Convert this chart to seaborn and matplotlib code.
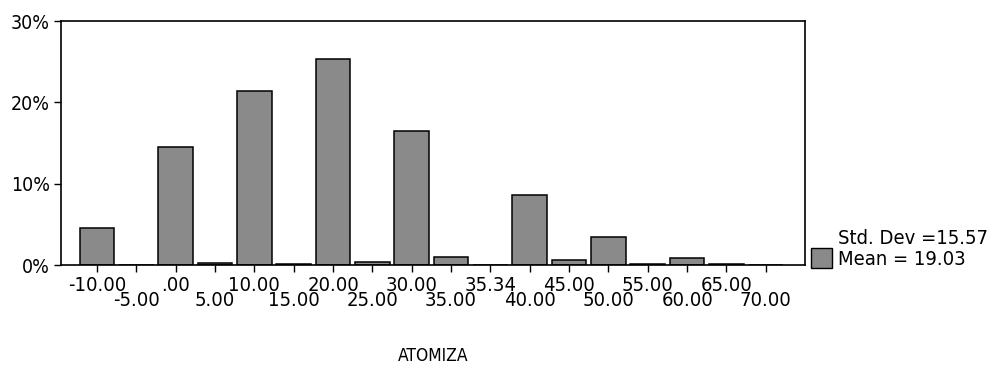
import matplotlib
matplotlib.use("Agg")
import matplotlib.pyplot as plt
import seaborn as sns
from matplotlib.patches import Patch
from matplotlib.ticker import PercentFormatter

# ATOMIZA histogram (SPSS style), bin labels alternate on two rows
bin_labels = ['-10.00', '-5.00', '.00', '5.00', '10.00', '15.00', '20.00', '25.00',
              '30.00', '35.00', '35.34', '40.00', '45.00', '50.00', '55.00', '60.00',
              '65.00', '70.00']
percent = [4.6, 0.0, 14.5, 0.25, 21.4, 0.1, 25.4, 0.35,
           16.5, 0.95, 0.0, 8.65, 0.65, 3.4, 0.1, 0.9,
           0.1, 0.05]
stats_labels = ['Std. Dev =15.57', 'Mean = 19.03']

sns.set_style('white')
plt.rcParams['font.family'] = ['DejaVu Sans']
plt.rcParams['font.stretch'] = 'condensed'
plt.rcParams['text.color'] = 'black'
plt.rcParams['xtick.color'] = 'black'
plt.rcParams['ytick.color'] = 'black'
plt.rcParams['axes.labelcolor'] = 'black'

fig, ax = plt.subplots(figsize=(9.96, 3.77), dpi=100)
fig.subplots_adjust(left=0.0612, right=0.808, top=0.944, bottom=0.297)

sns.barplot(x=bin_labels, y=percent, order=bin_labels, color='#8a8a8a',
            edgecolor='black', linewidth=1.1, width=0.88, saturation=1, ax=ax)

ax.set_xlim(-0.915, len(bin_labels) - 1 + 0.99)
ax.set_ylim(0, 30)
ax.set_yticks([0, 10, 20, 30])
ax.yaxis.set_major_formatter(PercentFormatter(decimals=0))

# top row on major ticks, bottom row on minor ticks with a bigger pad
idx = list(range(len(bin_labels)))
ax.set_xticks(idx[0::2], labels=bin_labels[0::2])
ax.set_xticks(idx[1::2], labels=bin_labels[1::2], minor=True)
ax.tick_params(axis='x', which='both', direction='out', length=5, width=1,
               labelsize=14.5, bottom=True)
ax.tick_params(axis='x', which='major', pad=3)
ax.tick_params(axis='x', which='minor', pad=13.5)
ax.tick_params(axis='y', direction='out', length=5, width=1,
               labelsize=14, left=True, pad=3)

for side in ['left', 'right', 'top', 'bottom']:
    ax.spines[side].set_visible(True)
    ax.spines[side].set_color('black')
    ax.spines[side].set_linewidth(1.2)

ax.set_xlabel('ATOMIZA', fontsize=12.5)
ax.xaxis.set_label_coords(0.5, -0.335)
ax.set_ylabel('')

handles = [Patch(facecolor='none', edgecolor='none'),
           Patch(facecolor='#8a8a8a', edgecolor='black', linewidth=1.0)]
ax.legend(handles, stats_labels, loc='lower left', bbox_to_anchor=(1.008, -0.015),
          frameon=False, fontsize=14.5, handlelength=1.05, handleheight=1.1,
          handletextpad=0.3, labelspacing=0.0, borderpad=0, borderaxespad=0)

fig.savefig('out.png', dpi=100)
